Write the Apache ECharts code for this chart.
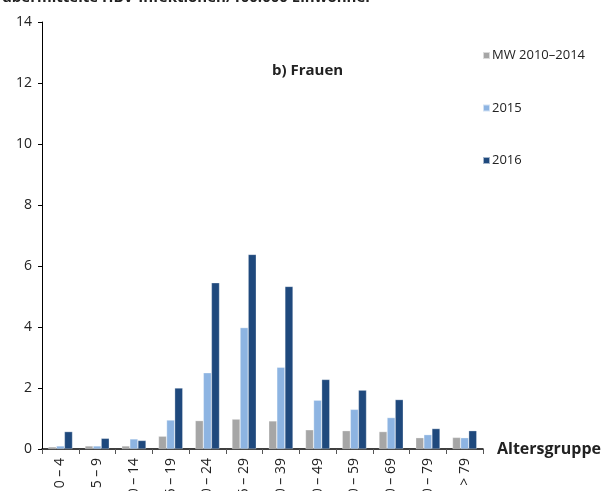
<!DOCTYPE html>
<html>
<head>
<meta charset="utf-8">
<script src="https://cdn.jsdelivr.net/npm/echarts@6/dist/echarts.min.js"></script>
<style>
  html, body { margin: 0; padding: 0; background: #fff; }
  #chart { width: 611px; height: 491px; }
</style>
</head>
<body>
<div id="chart"></div>
<script>
// Altersgruppen
const categories = ['0 – 4', '5 – 9', '10 – 14', '15 – 19', '20 – 24', '25 – 29', '30 – 39', '40 – 49', '50 – 59', '60 – 69', '70 – 79', '> 79'];
// übermittelte HBV-Infektionen/100.000 Einwohner, Frauen
const mw2010_2014 = [0.07, 0.1, 0.1, 0.42, 0.93, 0.98, 0.92, 0.63, 0.6, 0.57, 0.37, 0.38];
const y2015 = [0.1, 0.1, 0.33, 0.95, 2.5, 3.98, 2.68, 1.6, 1.3, 1.03, 0.47, 0.37];
const y2016 = [0.57, 0.35, 0.28, 2.0, 5.45, 6.38, 5.33, 2.28, 1.93, 1.62, 0.67, 0.6];
const seriesNames = ['MW 2010–2014', '2015', '2016'];
const colors = ['#a6a6a6', '#8db4e2', '#1f497d'];

const font = 'Open Sans';
let myChart = echarts.init(document.getElementById('chart'));

let barStyle = function (i) {
  return {
    color: colors[i],
    borderColor: 'rgba(255,255,255,0.6)',
    borderWidth: 0.5
  }
}

let options = {
  backgroundColor: '#fff',
  animation: false,
  textStyle: { fontFamily: font },
  color: colors,
  graphic: [
    {
      type: 'text',
      left: 2,
      top: -10,
      style: {
        text: 'übermittelte HBV-Infektionen/100.000 Einwohner',
        fontFamily: font,
        fontWeight: 'bold',
        fontSize: 15,
        fill: '#222'
      }
    },
    {
      type: 'text',
      left: 272,
      top: 63,
      style: {
        text: 'b) Frauen',
        fontFamily: font,
        fontWeight: 'bold',
        fontSize: 15,
        fill: '#222'
      }
    },
    {
      type: 'text',
      left: 497,
      top: 441,
      style: {
        text: 'Altersgruppe',
        fontFamily: font,
        fontWeight: 'bold',
        fontSize: 16,
        fill: '#222'
      }
    }
  ],
  legend: {
    orient: 'vertical',
    left: 477,
    top: 44,
    itemWidth: 7,
    itemHeight: 7,
    itemGap: 39.5,
    icon: 'rect',
    textStyle: { fontFamily: font, fontSize: 13, color: '#222', padding: [0, 0, 0, -3] },
    data: seriesNames
  },
  grid: {
    left: 42,
    top: 22,
    right: 128,
    bottom: 42,
    outerBoundsMode: 'none'
  },
  xAxis: {
    type: 'category',
    data: categories,
    axisLine: { lineStyle: { color: '#000', width: 1.5 } },
    axisTick: { show: true, length: 5, lineStyle: { color: '#555' } },
    axisLabel: {
      rotate: 90,
      interval: 0,
      margin: 9,
      fontFamily: font,
      fontSize: 14,
      color: '#222'
    }
  },
  yAxis: {
    type: 'value',
    min: 0,
    max: 14,
    interval: 2,
    axisLine: { show: true, lineStyle: { color: '#000', width: 1 } },
    axisTick: { show: true, length: 4, lineStyle: { color: '#000' } },
    splitLine: { show: false },
    axisLabel: {
      margin: 10,
      fontFamily: font,
      fontSize: 14,
      color: '#222'
    }
  },
  series: [
    {
      name: seriesNames[0],
      type: 'bar',
      data: mw2010_2014,
      barGap: '0%',
      barCategoryGap: '34%',
      itemStyle: barStyle(0)
    },
    {
      name: seriesNames[1],
      type: 'bar',
      data: y2015,
      barGap: '0%',
      barCategoryGap: '34%',
      itemStyle: barStyle(1)
    },
    {
      name: seriesNames[2],
      type: 'bar',
      data: y2016,
      barGap: '0%',
      barCategoryGap: '34%',
      itemStyle: barStyle(2)
    }
  ]
}
myChart.setOption(options);
</script>
</body>
</html>
